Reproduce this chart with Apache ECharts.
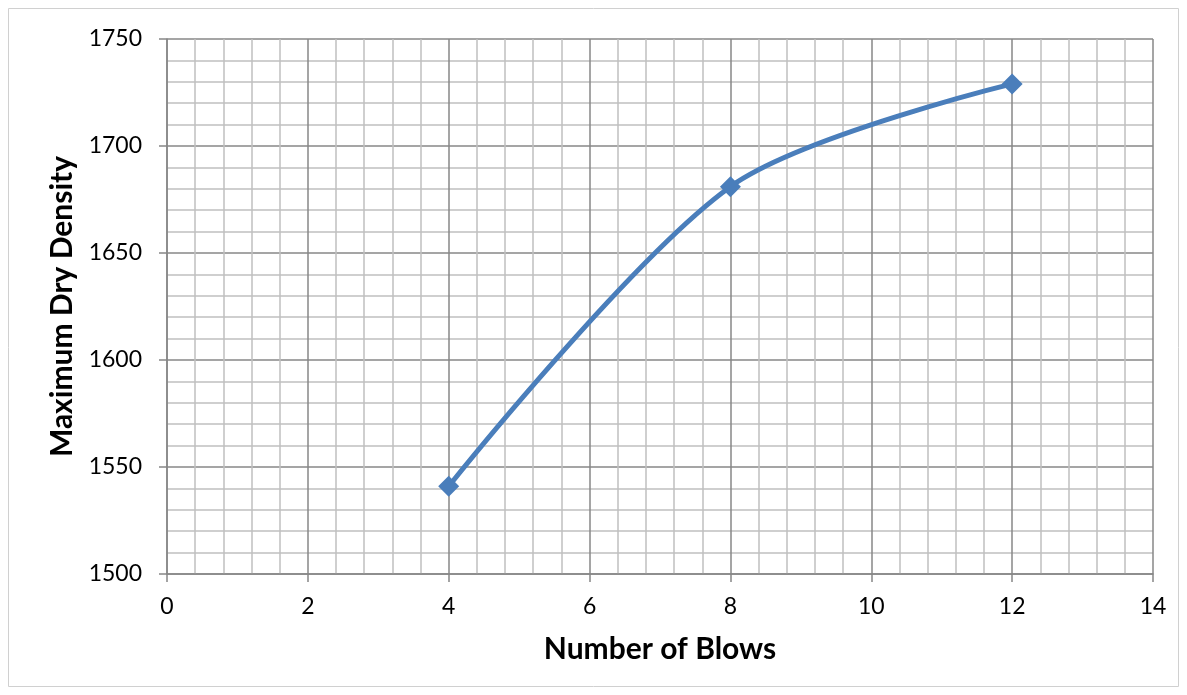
<!DOCTYPE html>
<html>
<head>
<meta charset="utf-8">
<script src="https://cdn.jsdelivr.net/npm/echarts@6/dist/echarts.min.js"></script>
<style>html,body{margin:0;padding:0;background:#fff}#c{width:1187px;height:695px}</style>
</head>
<body>
<div id="c"></div>
<script>
const blows = [4, 8, 12];
const density = [1541, 1681, 1729];
const xTitle = 'Number of Blows';
const yTitle = 'Maximum Dry Density';

const chart = echarts.init(document.getElementById('c'));
const font = 'Lato, "Open Sans", sans-serif';
const major = '#878787', minor = '#c0c0c0';
chart.setOption({
  animation: false,
  backgroundColor: '#fff',
  graphic: [{type: 'rect', shape: {x: 8.5, y: 8.5, width: 1170, height: 678}, style: {fill: 'none', stroke: '#d0d0d0', lineWidth: 1}, z: -1}],
  grid: {left: 167, right: 34, top: 39, bottom: 121, containLabel: false},
  xAxis: {
    type: 'value', min: 0, max: 14, interval: 2,
    name: xTitle, nameLocation: 'middle', nameGap: 60,
    nameTextStyle: {fontFamily: font, fontSize: 30, fontWeight: 'bold', color: '#000'},
    axisLine: {show: true, lineStyle: {color: major, width: 1.5}},
    axisTick: {show: true, length: 8, lineStyle: {color: major, width: 1.5}},
    axisLabel: {fontFamily: font, fontSize: 23, color: '#000', margin: 21},
    splitLine: {show: true, lineStyle: {color: major, width: 1.5}},
    minorTick: {show: false, splitNumber: 5},
    minorSplitLine: {show: true, lineStyle: {color: minor, width: 1.5}}
  },
  yAxis: {
    type: 'value', min: 1500, max: 1750, interval: 50,
    name: yTitle, nameLocation: 'middle', nameGap: 87, nameRotate: 90,
    nameTextStyle: {fontFamily: font, fontSize: 30, fontWeight: 'bold', color: '#000'},
    axisLine: {show: true, lineStyle: {color: major, width: 1.5}},
    axisTick: {show: true, length: 8, lineStyle: {color: major, width: 1.5}},
    axisLabel: {fontFamily: font, fontSize: 23, color: '#000', margin: 25, formatter: v => String(v)},
    splitLine: {show: true, lineStyle: {color: major, width: 1.5}},
    minorTick: {show: false, splitNumber: 5},
    minorSplitLine: {show: true, lineStyle: {color: minor, width: 1.5}}
  },
  series: [{
    type: 'line',
    data: blows.map((b, i) => [b, density[i]]),
    smooth: 0.3,
    symbol: 'diamond', symbolSize: 21,
    lineStyle: {color: '#4a7ebb', width: 5},
    itemStyle: {color: '#4a7ebb'}
  }]
});
</script>
</body>
</html>
